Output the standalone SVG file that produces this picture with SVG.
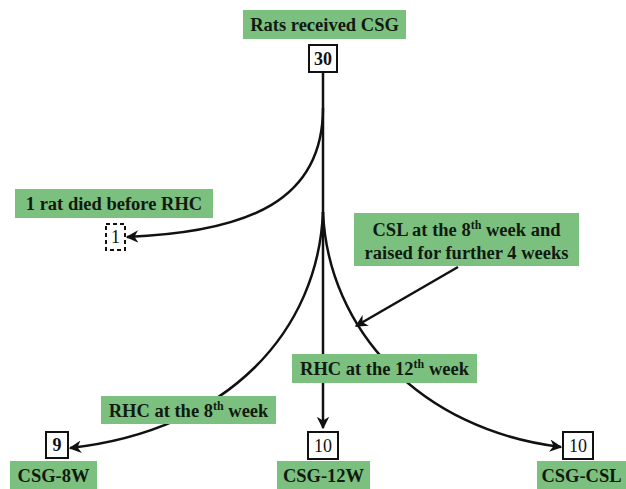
<svg xmlns="http://www.w3.org/2000/svg" width="626" height="489" viewBox="0 0 626 489">
<defs>
<style>
.g{fill:#7cc07f}
.t{font-family:"Liberation Serif","Times New Roman",serif;font-weight:bold;font-size:18.5px;fill:#101a10;text-anchor:middle}
.n{font-family:"Liberation Serif","Times New Roman",serif;font-size:18px;fill:#111;text-anchor:middle}
.b{fill:#fff;stroke:#111;stroke-width:2}
.c{fill:none;stroke:#111;stroke-width:2.5}
</style>
<marker id="ah" viewBox="0 0 10 10" refX="9" refY="5" markerWidth="5" markerHeight="5" orient="auto" markerUnits="strokeWidth">
<path d="M0,0 L10,5 L0,10 L3,5 z" fill="#111"/>
</marker>
</defs>
<g id="connectors">
<line class="c" x1="323" y1="73" x2="323" y2="428" marker-end="url(#ah)"/>
<path class="c" d="M323,108 C323,200 250,232 127,237" marker-end="url(#ah)"/>
<path class="c" d="M323,212 C318,330 230,430 70,448" marker-end="url(#ah)"/>
<path class="c" d="M323,212 C328,330 420,430 561,447" marker-end="url(#ah)"/>
<line class="c" x1="458" y1="267" x2="356" y2="326" marker-end="url(#ah)"/>
</g>
<g id="top-label"><rect class="g" x="243" y="10" width="163" height="29"/><text class="t" x="324.5" y="31">Rats received CSG</text></g>
<g id="n30"><rect class="b" x="309" y="45" width="28" height="27"/><text class="n" x="323" y="65" font-weight="bold">30</text></g>
<g id="died-label"><rect class="g" x="15" y="189" width="198" height="29"/><text class="t" x="114" y="210">1 rat died before RHC</text></g>
<g id="n1"><rect x="106" y="224" width="19" height="26" fill="#fff" stroke="#111" stroke-width="2" stroke-dasharray="4,3"/><text class="n" x="115.5" y="243">1</text></g>
<g id="csl-label"><rect class="g" x="354" y="213" width="225" height="53"/><text class="t" x="466.5" y="236">CSL at the 8<tspan font-size="12" dy="-7">th</tspan><tspan dy="7"> week and</tspan></text><text class="t" x="466.5" y="259">raised for further 4 weeks</text></g>
<g id="rhc12-label"><rect class="g" x="292" y="354" width="185" height="29"/><text class="t" x="384.5" y="375">RHC at the 12<tspan font-size="12" dy="-7">th</tspan><tspan dy="7"> week</tspan></text></g>
<g id="rhc8-label"><rect class="g" x="101" y="396" width="175" height="28"/><text class="t" x="188.5" y="417">RHC at the 8<tspan font-size="12" dy="-7">th</tspan><tspan dy="7"> week</tspan></text></g>
<g id="n9"><rect class="b" x="46" y="432" width="22" height="26"/><text class="n" x="57" y="451" font-weight="bold">9</text></g>
<g id="n10a"><rect class="b" x="308" y="432" width="30" height="27"/><text class="n" x="323" y="452">10</text></g>
<g id="n10b"><rect class="b" x="563" y="432" width="30" height="27"/><text class="n" x="578" y="452">10</text></g>
<g id="csg8w"><rect class="g" x="10" y="461" width="87" height="28"/><text class="t" x="53.5" y="482">CSG-8W</text></g>
<g id="csg12w"><rect class="g" x="277" y="461" width="93" height="28"/><text class="t" x="323.5" y="482">CSG-12W</text></g>
<g id="csgcsl"><rect class="g" x="537" y="461" width="89" height="28"/><text class="t" x="581.5" y="482">CSG-CSL</text></g>
</svg>
